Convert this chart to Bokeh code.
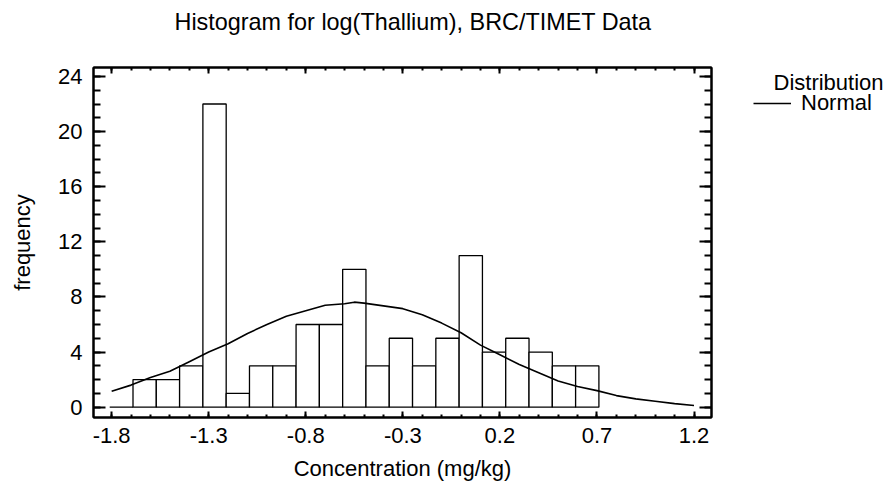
from bokeh.plotting import figure
from bokeh.layouts import row
from bokeh.models import (Range1d, LinearAxis, FixedTicker, Legend, LegendItem,
                          Label, ColumnDataSource, CustomLabelingPolicy)
from bokeh.embed import file_html
from bokeh.resources import INLINE

# ---------------- data ----------------
title_text = "Histogram for log(Thallium), BRC/TIMET Data"
x_label = "Concentration (mg/kg)"
y_label = "frequency"
legend_title = "Distribution"
legend_label = "Normal"

bin_start = -1.81
bin_width = 0.12
counts = [0, 2, 2, 3, 22, 1, 3, 3, 6, 6, 10, 3, 5, 3, 5, 11, 4, 5, 4, 3, 3]

curve_x = [-1.8, -1.7, -1.6, -1.5, -1.4, -1.3, -1.2, -1.1, -1.0, -0.9, -0.8,
           -0.7, -0.6, -0.55, -0.5, -0.4, -0.3, -0.2, -0.1, 0.0, 0.1, 0.2,
           0.3, 0.4, 0.5, 0.6, 0.7, 0.8, 0.9, 1.0, 1.1, 1.2]
curve_y = [1.15, 1.6, 2.15, 2.6, 3.3, 4.0, 4.6, 5.35, 6.0, 6.6, 7.0,
           7.4, 7.5, 7.62, 7.55, 7.35, 7.15, 6.7, 6.1, 5.4, 4.5, 3.8,
           3.1, 2.5, 1.9, 1.5, 1.2, 0.84, 0.6, 0.43, 0.26, 0.12]

x_ticks = [-1.8, -1.3, -0.8, -0.3, 0.2, 0.7, 1.2]
x_tick_labels = ["-1.8", "-1.3", "-0.8", "-0.3", "0.2", "0.7", "1.2"]
x_minor_ticks = [-1.8, -1.7, -1.6, -1.5, -1.4, -1.3, -1.2, -1.1, -1.0, -0.9,
                 -0.8, -0.7, -0.6, -0.5, -0.4, -0.3, -0.2, -0.1, 0.0, 0.1,
                 0.2, 0.3, 0.4, 0.5, 0.6, 0.7, 0.8, 0.9, 1.0, 1.1, 1.2]
y_ticks = [0, 4, 8, 12, 16, 20, 24]
y_minor_ticks = list(range(0, 25))

FONT = "Liberation Sans"
FS = "22px"

lefts = [bin_start + i * bin_width for i in range(len(counts))]
rights = [l + bin_width for l in lefts]
bars = ColumnDataSource(dict(left=lefts, right=rights, top=counts,
                             bottom=[0] * len(counts)))
curve = ColumnDataSource(dict(x=curve_x, y=curve_y))

# ---------------- main plot ----------------
p = figure(width=738, height=487,
           x_range=Range1d(-1.8935, 1.29), y_range=Range1d(-0.75, 24.65),
           output_backend="svg", toolbar_location=None,
           min_border_left=93, min_border_right=8,
           min_border_top=67, min_border_bottom=70)
p.background_fill_color = "white"
p.border_fill_color = "white"
p.outline_line_color = "black"
p.outline_line_width = 2
p.xgrid.visible = False
p.ygrid.visible = False

p.quad(left="left", right="right", top="top", bottom="bottom", source=bars,
       fill_color="white", line_color="black", line_width=1.3)
p.line(x="x", y="y", source=curve, line_color="black", line_width=1.6)

xt = FixedTicker(ticks=x_ticks, minor_ticks=x_minor_ticks)
yt = FixedTicker(ticks=y_ticks, minor_ticks=y_minor_ticks)

xa = p.xaxis[0]
xa.ticker = xt
xa.major_label_overrides = {t: s for t, s in zip(x_ticks, x_tick_labels)}
xa.axis_label = x_label
ya = p.yaxis[0]
ya.ticker = yt
ya.axis_label = y_label

top_ax = LinearAxis(ticker=xt)
right_ax = LinearAxis(ticker=yt)
p.add_layout(top_ax, "above")
p.add_layout(right_ax, "right")

for ax, maj, mnr in ((xa, 6, 3), (top_ax, 6, 3), (ya, 12, 7), (right_ax, 12, 7)):
    ax.axis_line_color = "black"
    ax.axis_line_width = 2
    ax.major_tick_in = maj
    ax.major_tick_out = 0
    ax.minor_tick_in = mnr
    ax.minor_tick_out = 0
    ax.major_tick_line_color = "black"
    ax.minor_tick_line_color = "black"
    ax.major_tick_line_width = 2
    ax.minor_tick_line_width = 2
    ax.major_label_text_font = FONT
    ax.major_label_text_font_size = FS
    ax.major_label_text_color = "black"
    ax.axis_label_text_font = FONT
    ax.axis_label_text_font_size = FS
    ax.axis_label_text_font_style = "normal"
    ax.axis_label_text_color = "black"

# mirror axes: ticks only (labels hidden)
top_ax.major_label_policy = CustomLabelingPolicy(code="return []")
top_ax.major_label_standoff = 10
right_ax.major_label_policy = CustomLabelingPolicy(code="return []")
right_ax.major_label_standoff = 0

xa.major_label_standoff = 10
xa.axis_label_standoff = 10
ya.major_label_standoff = 11
ya.axis_label_standoff = 20

p.title.text = title_text
p.title.align = "left"
p.title.offset = 81
p.title.text_font = FONT
p.title.text_font_size = "23.4px"
p.title.text_font_style = "normal"
p.title.text_color = "black"
p.title.standoff = 10

# ---------------- legend panel (frame aligned with the main frame) ----------------
lf = figure(width=151, height=487, x_range=Range1d(0, 151),
            y_range=Range1d(417, 67), output_backend="svg",
            toolbar_location=None, x_axis_location=None, y_axis_location=None,
            min_border_left=0, min_border_right=0,
            min_border_top=67, min_border_bottom=70, outline_line_color=None)
lf.xgrid.visible = False
lf.ygrid.visible = False
lf.background_fill_color = "white"
lf.border_fill_color = "white"
# same series, outside this panel's visible area: only its legend swatch shows
sample = lf.line(x="x", y="y", source=curve, line_color="black", line_width=1.6)

legend = Legend(items=[LegendItem(label=legend_label, renderers=[sample])],
                location=(15, 301), padding=0, margin=0, spacing=0,
                border_line_color=None, background_fill_alpha=0,
                label_text_font=FONT, label_text_font_size=FS,
                label_text_color="black",
                glyph_width=38, glyph_height=22, label_standoff=10)
lf.add_layout(legend, "center")
lf.add_layout(Label(x=35, y=81.7, text=legend_title, text_font=FONT,
                    text_font_size=FS, text_color="black",
                    text_baseline="alphabetic"))

layout = row(p, lf, spacing=0)
open("out.html", "w").write(file_html(layout, INLINE))
